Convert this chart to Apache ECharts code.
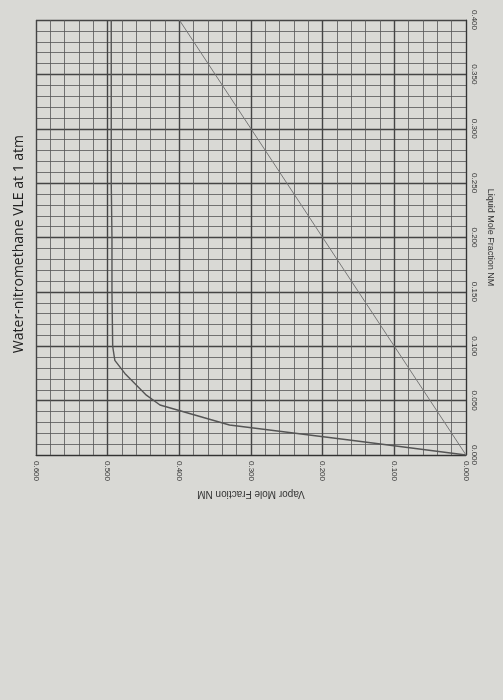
<!DOCTYPE html>
<html>
<head>
<meta charset="utf-8">
<script src="https://cdn.jsdelivr.net/npm/echarts@6/dist/echarts.min.js"></script>
<style>html,body{margin:0;background:#d9d9d5;}#c{width:503px;height:700px;}</style>
</head>
<body>
<div id="c"></div>
<script>
// liquid mole fraction NM (x) and vapor mole fraction NM (y)
var liquidX = [0, 0.0138, 0.0276, 0.046, 0.055, 0.075, 0.087, 0.1, 0.15, 0.2, 0.25, 0.3, 0.35, 0.4];
var vaporY = [0, 0.163, 0.33, 0.427, 0.446, 0.476, 0.49, 0.493, 0.494, 0.494, 0.495, 0.495, 0.495, 0.495];
var diagX = [0, 0.4];
var diagY = [0, 0.4];

var chart = echarts.init(document.getElementById('c'));

// chart is photographed rotated: vapor runs right-to-left along bottom, liquid upward on right
function pairs(xs, ys) {
    return xs.map(function (x, i) { return [ys[i], x]; });
}

var labelFmt = function (v) { return v.toFixed(3); };

chart.setOption({
    backgroundColor: '#d9d9d5',
    animation: false,
    grid: { left: 36, right: 37, top: 20, bottom: 245 },
    xAxis: {
        type: 'value', inverse: true, min: 0, max: 0.6, interval: 0.1,
        name: 'Vapor Mole Fraction NM', nameLocation: 'middle', nameGap: 26, nameRotate: 180,
        nameTextStyle: { color: '#333', fontSize: 10 },
        axisLine: { lineStyle: { color: '#333' } },
        axisTick: { show: false },
        axisLabel: { rotate: -90, formatter: labelFmt, color: '#333', fontSize: 8, margin: 6 },
        splitLine: { lineStyle: { color: '#444', width: 1.4 } },
        minorTick: { show: false, splitNumber: 5 },
        minorSplitLine: { show: true, lineStyle: { color: '#555', width: 0.8 } }
    },
    yAxis: {
        type: 'value', position: 'right', min: 0, max: 0.4, interval: 0.05,
        name: 'Liquid Mole Fraction NM', nameLocation: 'middle', nameGap: 18, nameRotate: -90,
        nameTextStyle: { color: '#333', fontSize: 9 },
        axisLine: { show: true, lineStyle: { color: '#333' } },
        axisTick: { show: false },
        axisLabel: { rotate: -90, formatter: labelFmt, color: '#333', fontSize: 8, margin: 4 },
        splitLine: { lineStyle: { color: '#444', width: 1.4 } },
        minorTick: { show: false, splitNumber: 5 },
        minorSplitLine: { show: true, lineStyle: { color: '#555', width: 0.8 } }
    },
    graphic: [{
        type: 'text', left: 12, top: 135, rotation: Math.PI / 2,
        style: { text: 'Water-nitromethane VLE at 1 atm', fill: '#222', fontSize: 14, fontFamily: 'Open Sans' }
    }],
    series: [{
        type: 'line', data: pairs(liquidX, vaporY), showSymbol: false,
        lineStyle: { color: '#555', width: 1.4 }
    }, {
        type: 'line', data: pairs(diagX, diagY), showSymbol: false,
        lineStyle: { color: '#777', width: 1 }
    }]
});
</script>
</body>
</html>
